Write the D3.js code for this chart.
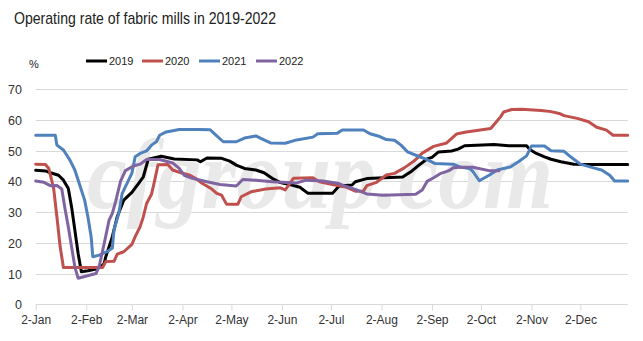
<!DOCTYPE html>
<html>
<head>
<meta charset="utf-8">
<script src="https://cdn.jsdelivr.net/npm/d3@7/dist/d3.min.js"></script>
<style>
  html, body { margin: 0; padding: 0; background: #fff; }
  svg { display: block; }
</style>
</head>
<body>
<svg id="chart" width="643" height="341"></svg>
<script>
// ---- data ----
const titleText = "Operating rate of fabric mills in 2019-2022";
const unitLabel = "%";
const seriesNames = ["2019", "2020", "2021", "2022"];
const seriesColors = ["#000000", "#c0504d", "#4f81bd", "#8064a2"];
const yTicks = [0, 10, 20, 30, 40, 50, 60, 70];
const xTickLabels = ["2-Jan","2-Feb","2-Mar","2-Apr","2-May","2-Jun","2-Jul","2-Aug","2-Sep","2-Oct","2-Nov","2-Dec"];
const xTickDates = ["01-02","02-02","03-02","04-02","05-02","06-02","07-02","08-02","09-02","10-02","11-02","12-02"];

const s2019 = [["01-02",43.6],["01-08",43.4],["01-11",42.8],["01-16",42.0],["01-19",40.4],["01-22",37.7],["01-24",31.7],["01-26",24.2],["01-28",16.6],["01-30",10.6],["02-03",10.9],["02-08",11.5],["02-11",12.2],["02-13",13.3],["02-14",15.5],["02-18",22.0],["02-21",28.5],["02-25",33.9],["03-02",36.4],["03-06",39.3],["03-09",41.5],["03-12",47.2],["03-20",48.2],["03-28",47.3],["04-11",47.0],["04-13",46.4],["04-17",47.6],["04-26",47.5],["05-01",46.6],["05-05",45.3],["05-10",44.2],["05-17",43.7],["05-22",42.8],["05-27",41.0],["06-01",39.6],["06-08",38.8],["06-13",38.1],["06-18",36.1],["07-03",36.1],["07-07",38.5],["07-15",38.8],["07-17",39.9],["07-24",40.9],["08-15",41.4],["08-20",43.1],["08-25",45.3],["08-30",47.3],["09-02",47.8],["09-06",49.6],["09-14",49.9],["09-18",50.5],["09-22",51.6],["10-10",52.0],["10-19",51.6],["10-30",51.6],["11-01",50.4],["11-05",49.1],["11-10",48.0],["11-14",47.2],["11-20",46.4],["11-28",45.6],["12-05",45.5],["12-31",45.5]];

const s2020 = [["01-02",45.6],["01-08",45.5],["01-10",44.2],["01-13",37.7],["01-15",28.5],["01-17",18.7],["01-19",12.0],["02-12",12.0],["02-14",13.9],["02-19",14.0],["02-21",16.3],["02-25",17.1],["03-02",19.5],["03-04",22.0],["03-07",25.2],["03-09",28.5],["03-11",32.8],["03-14",35.8],["03-16",40.4],["03-18",45.4],["03-24",45.5],["03-27",43.7],["04-01",42.8],["04-06",42.1],["04-10",41.0],["04-14",39.4],["04-20",37.5],["04-23",36.1],["04-26",35.5],["04-29",32.6],["05-06",32.6],["05-08",35.0],["05-14",36.6],["05-23",37.5],["06-01",37.9],["06-04",37.2],["06-09",41.0],["06-21",41.2],["06-25",39.9],["07-03",39.0],["07-11",38.2],["07-17",36.8],["07-22",36.9],["07-24",38.6],["07-30",39.7],["08-05",42.1],["08-10",42.6],["08-16",44.4],["08-22",46.6],["08-27",49.2],["09-03",51.4],["09-11",52.5],["09-17",55.4],["09-23",56.1],["10-08",57.2],["10-11",59.1],["10-14",61.0],["10-16",62.6],["10-21",63.4],["10-27",63.5],["11-08",63.1],["11-14",62.7],["11-19",62.1],["11-22",61.4],["11-30",60.5],["12-07",59.4],["12-12",57.6],["12-18",56.7],["12-22",55.0],["12-31",55.0]];

const s2021 = [["01-02",55.0],["01-14",55.0],["01-15",51.8],["01-19",50.2],["01-23",46.9],["01-26",43.7],["01-29",38.8],["02-01",33.9],["02-03",28.5],["02-05",22.0],["02-06",15.5],["02-10",16.0],["02-15",17.2],["02-18",18.3],["02-19",24.2],["02-22",29.7],["02-24",36.0],["03-02",42.7],["03-04",48.0],["03-07",49.1],["03-11",49.9],["03-14",51.8],["03-17",52.9],["03-19",55.0],["03-23",56.1],["03-27",56.5],["03-31",56.9],["04-12",56.9],["04-19",56.8],["04-22",55.3],["04-27",52.9],["05-05",52.9],["05-10",54.1],["05-17",54.8],["05-20",54.0],["05-26",52.5],["06-04",52.4],["06-11",53.5],["06-21",54.4],["06-24",55.5],["07-06",55.7],["07-09",56.7],["07-22",56.7],["07-26",55.5],["08-01",54.6],["08-05",53.6],["08-10",53.4],["08-14",51.8],["08-18",49.6],["08-25",48.1],["08-30",47.1],["09-04",45.8],["09-15",45.6],["09-19",44.7],["09-25",44.2],["09-27",43.3],["10-01",40.2],["10-07",42.0],["10-12",43.7],["10-20",44.7],["10-25",46.4],["10-30",48.3],["11-02",51.5],["11-10",51.5],["11-14",50.0],["11-22",49.8],["11-26",48.0],["12-02",45.6],["12-10",44.4],["12-15",43.7],["12-20",42.0],["12-23",40.1],["12-31",40.1]];

const s2022 = [["01-02",40.1],["01-07",39.7],["01-11",38.6],["01-15",38.7],["01-18",37.5],["01-20",31.0],["01-22",25.2],["01-24",18.7],["01-26",12.2],["01-28",8.5],["02-08",10.0],["02-10",12.5],["02-13",19.8],["02-16",27.4],["02-18",29.6],["02-20",33.4],["02-23",40.0],["02-26",43.5],["03-03",45.0],["03-07",45.6],["03-11",47.1],["03-19",47.1],["03-27",46.0],["03-31",44.2],["04-03",42.0],["04-08",41.0],["04-17",39.9],["04-25",39.0],["05-05",38.5],["05-09",40.6],["05-17",40.4],["05-27",39.9],["06-11",39.5],["06-17",40.4],["06-27",40.1],["07-07",39.3],["07-11",38.4],["07-17",37.4],["07-24",35.9],["08-03",35.5],["08-23",35.8],["08-27",37.2],["08-30",40.0],["09-03",41.2],["09-07",42.5],["09-12",43.4],["09-15",44.4],["09-19",44.6],["09-27",44.6],["10-07",43.5],["10-13",43.5]];

const seriesData = [s2019, s2020, s2021, s2022];

// ---- drawing ----
const parse = d3.timeParse("%Y-%m-%d");
const toDate = md => parse("2019-" + md);

const svg = d3.select("#chart");
const W = 643, H = 341;
svg.append("rect").attr("width", W).attr("height", H).attr("fill", "#ffffff");

const x = d3.scaleTime()
  .domain([toDate("01-02"), toDate("12-31")])
  .range([35.7, 627.7]);
const y = d3.scaleLinear().domain([0, 70]).range([304.3, 89.2]);

const font = "'Liberation Sans', Arial, sans-serif";

// title
svg.append("text")
  .attr("x", 14).attr("y", 24)
  .attr("font-family", font)
  .attr("font-size", 17)
  .attr("fill", "#222")
  .attr("textLength", 262)
  .attr("lengthAdjust", "spacingAndGlyphs")
  .text(titleText);

// gridlines
svg.append("g")
  .selectAll("line")
  .data(yTicks.filter(v => v > 0))
  .join("line")
  .attr("x1", x.range()[0]).attr("x2", x.range()[1])
  .attr("y1", d => Math.round(y(d)) + 0.5).attr("y2", d => Math.round(y(d)) + 0.5)
  .attr("stroke", "#d9d9d9").attr("stroke-width", 1);

// watermark
svg.append("text")
  .attr("x", 87).attr("y", 208)
  .attr("font-family", "'Liberation Serif', 'DejaVu Serif', serif")
  .attr("font-style", "italic")
  .attr("font-weight", "bold")
  .attr("font-size", 100)
  .attr("fill", "#e9e9e9")
  .attr("textLength", 466)
  .attr("lengthAdjust", "spacingAndGlyphs")
  .text("cfgroup.com");

// y axis labels
const yAxis = d3.axisLeft(y).tickValues(yTicks).tickSize(0).tickPadding(0);
const gy = svg.append("g").attr("transform", "translate(22,0)").call(yAxis);
gy.select(".domain").remove();
gy.selectAll("text")
  .attr("font-family", font).attr("font-size", 12.5).attr("fill", "#333")
  .attr("dy", "0.36em");

// x axis
const xAxis = d3.axisBottom(x)
  .tickValues(xTickDates.map(toDate))
  .tickFormat((d, i) => xTickLabels[i])
  .tickSize(6).tickSizeOuter(0).tickPadding(5);
const gx = svg.append("g").attr("transform", `translate(0,${Math.round(y(0)) + 0.5})`).call(xAxis);
gx.select(".domain").attr("stroke", "#d9d9d9").attr("d", `M${x.range()[0]},0H${x.range()[1]}`);
gx.selectAll(".tick line").attr("stroke", "#d9d9d9");
gx.selectAll("text")
  .attr("font-family", font).attr("font-size", 12).attr("fill", "#333");

// lines
const line = d3.line()
  .x(d => x(toDate(d[0])))
  .y(d => y(d[1]));

seriesData.forEach((s, i) => {
  svg.append("path")
    .datum(s)
    .attr("d", line)
    .attr("fill", "none")
    .attr("stroke", seriesColors[i])
    .attr("stroke-width", 3)
    .attr("stroke-linejoin", "round")
    .attr("stroke-linecap", "round");
});

// unit label
svg.append("text")
  .attr("x", 34).attr("y", 68)
  .attr("text-anchor", "middle")
  .attr("font-family", font).attr("font-size", 11).attr("fill", "#222")
  .text(unitLabel);

// legend
const legendX = [86, 142, 199, 256];
const lg = svg.append("g");
seriesNames.forEach((name, i) => {
  lg.append("line")
    .attr("x1", legendX[i]).attr("x2", legendX[i] + 21)
    .attr("y1", 61).attr("y2", 61)
    .attr("stroke", seriesColors[i]).attr("stroke-width", 3);
  lg.append("text")
    .attr("x", legendX[i] + 23).attr("y", 65)
    .attr("font-family", font).attr("font-size", 11).attr("fill", "#222")
    .text(name);
});
</script>
</body>
</html>
